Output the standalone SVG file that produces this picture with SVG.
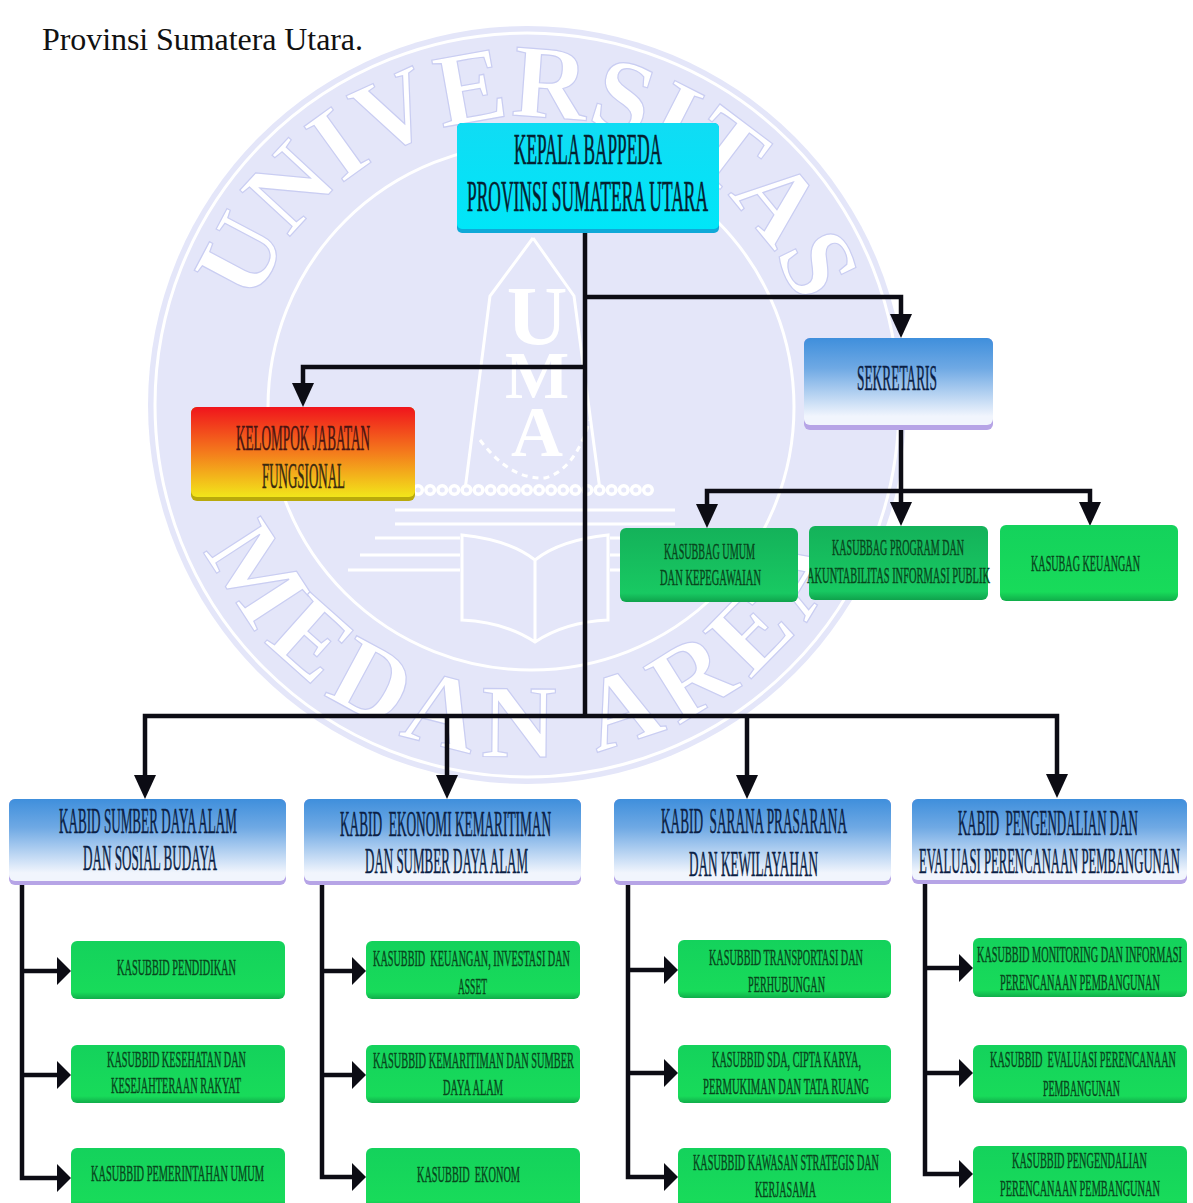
<svg xmlns="http://www.w3.org/2000/svg" width="1193" height="1203" viewBox="0 0 1193 1203">
<style>
text{font-family:"Liberation Serif","Times New Roman",serif;text-anchor:start}
.t{font-size:12.5px;fill:#0b1f45;stroke:#0b1f45;stroke-width:.18}
.h{font-size:16px;fill:#04202f;stroke:#04202f;stroke-width:.22}
.s{font-size:10px;fill:#08451c;stroke:#08451c;stroke-width:.18}
.wm{font-size:104px;font-weight:bold;fill:#fff;stroke:#c9cdf2;stroke-width:1.2;text-anchor:middle}
.em{font-weight:bold;fill:#fff;text-anchor:middle}
.emb{fill:none;stroke:#fff;stroke-width:3}
.ln{fill:none;stroke:#0c0c14;stroke-width:4.5;stroke-linejoin:miter}
.ah{fill:#0c0c14}
</style>
<defs>
<linearGradient id="gBlue" x1="0" y1="0" x2="0" y2="1"><stop offset="0" stop-color="#3f8fdc"/><stop offset=".35" stop-color="#6fa9e4"/><stop offset=".9" stop-color="#f1f5fd"/></linearGradient>
<linearGradient id="gRed" x1="0" y1="0" x2="0" y2="1"><stop offset="0" stop-color="#f0141c"/><stop offset=".5" stop-color="#f47a1c"/><stop offset="1" stop-color="#f2e61a"/></linearGradient>
<linearGradient id="gGreen" x1="0" y1="0" x2="0" y2="1"><stop offset="0" stop-color="#14d25c"/><stop offset=".88" stop-color="#18db5a"/><stop offset="1" stop-color="#10ad4a"/></linearGradient>
<linearGradient id="gGreen2" x1="0" y1="0" x2="0" y2="1"><stop offset="0" stop-color="#14b25a"/><stop offset=".88" stop-color="#18c962"/><stop offset="1" stop-color="#0fa24c"/></linearGradient>
<linearGradient id="gCyan" x1="0" y1="0" x2="0" y2="1"><stop offset="0" stop-color="#10dcf4"/><stop offset="1" stop-color="#00e6f8"/></linearGradient>
<path id="arcTop" d="M 237 407 A 290 290 0 0 1 817 407"/>
<path id="arcBot" d="M 175 405 A 352 352 0 0 0 879 405"/>
<polygon id="hd" points="-11,-24 11,-24 0,0" class="ah"/>
<polygon id="hr" points="-14,-14 0,0 -14,14" class="ah"/>
</defs>

<rect width="1193" height="1203" fill="#fff"/>

<g id="watermark">
<circle cx="527" cy="405" r="379" fill="#e4e6f9"/>
<circle cx="527" cy="405" r="372" fill="none" stroke="#fff" stroke-width="3"/>
<circle cx="531" cy="407" r="263" fill="none" stroke="#fff" stroke-width="3"/>
<text class="wm"><textPath href="#arcTop" startOffset="50%">UNIVERSITAS</textPath></text>
<text class="wm"><textPath href="#arcBot" startOffset="50%" letter-spacing="10">MEDAN AREA</textPath></text>
<path class="emb" d="M533 238 L490 296 L465 490 M533 238 L574 296 L600 490"/>
<text class="em" x="537" y="345" font-size="84">U</text>
<text class="em" x="537" y="398" font-size="68">M</text>
<text class="em" x="537" y="456" font-size="72">A</text>
<path d="M418 490 H650" fill="none" stroke="#fff" stroke-width="12" stroke-linecap="round" stroke-dasharray="0.1 12"/>
<path d="M418 490 H650" fill="none" stroke="#e4e6f9" stroke-width="5" stroke-linecap="round" stroke-dasharray="0.1 12"/>
<path class="emb" d="M395 510 H675 M395 524 H675 M375 538 H460 M610 538 H690 M360 555 H460 M610 555 H695 M348 570 H460 M610 570 H700"/>
<path class="emb" d="M462 535 Q510 540 535 560 Q560 540 608 535 V620 Q565 622 535 642 Q505 622 462 620 Z M535 560 V642"/>
<path class="emb" d="M480 440 Q510 480 545 478 Q575 470 590 420" stroke-dasharray="6 5"/>
</g>

<g id="connectors">
<path class="ln" d="M585 233 V716"/>
<path class="ln" d="M585 297 H901 V318"/><use href="#hd" x="901" y="338"/>
<path class="ln" d="M585 367 H303 V388"/><use href="#hd" x="303" y="407"/>
<path class="ln" d="M901 430 V510"/><use href="#hd" x="901" y="526"/>
<path class="ln" d="M707 510 V491 H1090 V510"/><use href="#hd" x="707" y="528"/><use href="#hd" x="1090" y="526"/>
<path class="ln" d="M145 780 V716 H1057 V780"/><path class="ln" d="M447 716 V780 M747 716 V780"/>
<use href="#hd" x="145" y="799"/><use href="#hd" x="447" y="799"/><use href="#hd" x="747" y="799"/><use href="#hd" x="1057" y="798"/>
<path class="ln" d="M22 885 V1178 H60 M22 971 H60 M22 1075 H60"/>
<use href="#hr" x="71" y="971"/><use href="#hr" x="71" y="1075"/><use href="#hr" x="71" y="1178"/>
<path class="ln" d="M322 885 V1177 H355 M322 971 H355 M322 1075 H355"/>
<use href="#hr" x="366" y="971"/><use href="#hr" x="366" y="1075"/><use href="#hr" x="366" y="1177"/>
<path class="ln" d="M628 885 V1177 H667 M628 970 H667 M628 1073 H667"/>
<use href="#hr" x="678" y="970"/><use href="#hr" x="678" y="1073"/><use href="#hr" x="678" y="1177"/>
<path class="ln" d="M925 884 V1174 H962 M925 968 H962 M925 1073 H962"/>
<use href="#hr" x="973" y="968"/><use href="#hr" x="973" y="1073"/><use href="#hr" x="973" y="1174"/>
</g>

<g id="kepala"><rect x="457" y="123" width="262" height="110" rx="5" fill="#0fa9d8"/><rect x="457" y="123" width="262" height="106" rx="5" fill="url(#gCyan)"/>
<text class="h" x="514" transform="matrix(1 0 0 2.8 0 164)" textLength="148" lengthAdjust="spacingAndGlyphs">KEPALA BAPPEDA</text>
<text class="h" x="467" transform="matrix(1 0 0 2.8 0 211)" textLength="241" lengthAdjust="spacingAndGlyphs">PROVINSI SUMATERA UTARA</text></g>

<g id="sekretaris"><rect x="804" y="338" width="189" height="92" rx="6" fill="#b6a4e6"/><rect x="804" y="338" width="189" height="87" rx="6" fill="url(#gBlue)"/>
<text class="t" x="857" transform="matrix(1 0 0 2.9 0 390)" textLength="80" lengthAdjust="spacingAndGlyphs">SEKRETARIS</text></g>

<g id="jabatan"><rect x="191" y="407" width="224" height="94" rx="6" fill="#b9a90c"/><rect x="191" y="407" width="224" height="90" rx="6" fill="url(#gRed)"/>
<text class="t" x="236" transform="matrix(1 0 0 2.9 0 450)" textLength="134" lengthAdjust="spacingAndGlyphs" style="fill:#4a1412;stroke:#4a1412">KELOMPOK JABATAN</text>
<text class="t" x="262" transform="matrix(1 0 0 2.9 0 488)" textLength="83" lengthAdjust="spacingAndGlyphs" style="fill:#3a2a10;stroke:#3a2a10">FUNGSIONAL</text></g>

<g id="kasubbag-umum"><rect x="620" y="528" width="178" height="74" rx="6" fill="url(#gGreen2)"/>
<text class="s" x="664" transform="matrix(1 0 0 2.4 0 559)" textLength="91" lengthAdjust="spacingAndGlyphs">KASUBBAG UMUM</text>
<text class="s" x="660" transform="matrix(1 0 0 2.4 0 585)" textLength="101" lengthAdjust="spacingAndGlyphs">DAN KEPEGAWAIAN</text></g>
<g id="kasubbag-program"><rect x="809" y="526" width="179" height="74" rx="6" fill="url(#gGreen2)"/>
<text class="s" x="832" transform="matrix(1 0 0 2.4 0 555)" textLength="132" lengthAdjust="spacingAndGlyphs">KASUBBAG PROGRAM DAN</text>
<text class="s" x="807" transform="matrix(1 0 0 2.4 0 583)" textLength="183" lengthAdjust="spacingAndGlyphs">AKUNTABILITAS INFORMASI PUBLIK</text></g>
<g id="kasubag-keuangan"><rect x="1000" y="525" width="178" height="76" rx="6" fill="url(#gGreen)"/>
<text class="s" x="1031" transform="matrix(1 0 0 2.4 0 571)" textLength="109" lengthAdjust="spacingAndGlyphs">KASUBAG KEUANGAN</text></g>

<g id="kabid-1"><rect x="9" y="799" width="277" height="86" rx="6" fill="#b6a4e6"/><rect x="9" y="799" width="277" height="82" rx="6" fill="url(#gBlue)"/>
<text class="t" x="59" transform="matrix(1 0 0 2.9 0 833)" textLength="178" lengthAdjust="spacingAndGlyphs">KABID SUMBER DAYA ALAM</text>
<text class="t" x="83" transform="matrix(1 0 0 2.9 0 870)" textLength="134" lengthAdjust="spacingAndGlyphs">DAN SOSIAL BUDAYA</text></g>
<g id="kabid-2"><rect x="304" y="799" width="277" height="86" rx="6" fill="#b6a4e6"/><rect x="304" y="799" width="277" height="82" rx="6" fill="url(#gBlue)"/>
<text class="t" x="340" transform="matrix(1 0 0 2.9 0 836)" textLength="211" lengthAdjust="spacingAndGlyphs" xml:space="preserve">KABID  EKONOMI KEMARITIMAN</text>
<text class="t" x="365" transform="matrix(1 0 0 2.9 0 873)" textLength="163" lengthAdjust="spacingAndGlyphs">DAN SUMBER DAYA ALAM</text></g>
<g id="kabid-3"><rect x="614" y="799" width="277" height="86" rx="6" fill="#b6a4e6"/><rect x="614" y="799" width="277" height="82" rx="6" fill="url(#gBlue)"/>
<text class="t" x="661" transform="matrix(1 0 0 2.9 0 833)" textLength="186" lengthAdjust="spacingAndGlyphs" xml:space="preserve">KABID  SARANA PRASARANA</text>
<text class="t" x="689" transform="matrix(1 0 0 2.9 0 876)" textLength="129" lengthAdjust="spacingAndGlyphs">DAN KEWILAYAHAN</text></g>
<g id="kabid-4"><rect x="912" y="799" width="275" height="85" rx="6" fill="#b6a4e6"/><rect x="912" y="799" width="275" height="81" rx="6" fill="url(#gBlue)"/>
<text class="t" x="958" transform="matrix(1 0 0 2.9 0 835)" textLength="180" lengthAdjust="spacingAndGlyphs" xml:space="preserve">KABID  PENGENDALIAN DAN</text>
<text class="t" x="919" transform="matrix(1 0 0 2.9 0 873)" textLength="261" lengthAdjust="spacingAndGlyphs">EVALUASI PERENCANAAN PEMBANGUNAN</text></g>

<g id="sub-1-1"><rect x="71" y="941" width="214" height="58" rx="6" fill="url(#gGreen)"/>
<text class="s" x="117" transform="matrix(1 0 0 2.4 0 975)" textLength="119" lengthAdjust="spacingAndGlyphs">KASUBBID PENDIDIKAN</text></g>
<g id="sub-1-2"><rect x="71" y="1045" width="214" height="58" rx="6" fill="url(#gGreen)"/>
<text class="s" x="107" transform="matrix(1 0 0 2.4 0 1067)" textLength="139" lengthAdjust="spacingAndGlyphs">KASUBBID KESEHATAN DAN</text>
<text class="s" x="111" transform="matrix(1 0 0 2.4 0 1093)" textLength="130" lengthAdjust="spacingAndGlyphs">KESEJAHTERAAN RAKYAT</text></g>
<g id="sub-1-3"><rect x="71" y="1148" width="214" height="60" rx="6" fill="url(#gGreen)"/>
<text class="s" x="91" transform="matrix(1 0 0 2.4 0 1181)" textLength="173" lengthAdjust="spacingAndGlyphs">KASUBBID PEMERINTAHAN UMUM</text></g>

<g id="sub-2-1"><rect x="366" y="941" width="214" height="58" rx="6" fill="url(#gGreen)"/>
<text class="s" x="373" transform="matrix(1 0 0 2.4 0 966)" textLength="197" lengthAdjust="spacingAndGlyphs" xml:space="preserve">KASUBBID  KEUANGAN, INVESTASI DAN</text>
<text class="s" x="458" transform="matrix(1 0 0 2.4 0 994)" textLength="29" lengthAdjust="spacingAndGlyphs">ASSET</text></g>
<g id="sub-2-2"><rect x="366" y="1045" width="214" height="58" rx="6" fill="url(#gGreen)"/>
<text class="s" x="373" transform="matrix(1 0 0 2.4 0 1068)" textLength="201" lengthAdjust="spacingAndGlyphs">KASUBBID KEMARITIMAN DAN SUMBER</text>
<text class="s" x="443" transform="matrix(1 0 0 2.4 0 1095)" textLength="60" lengthAdjust="spacingAndGlyphs">DAYA ALAM</text></g>
<g id="sub-2-3"><rect x="366" y="1148" width="214" height="60" rx="6" fill="url(#gGreen)"/>
<text class="s" x="417" transform="matrix(1 0 0 2.4 0 1182)" textLength="103" lengthAdjust="spacingAndGlyphs" xml:space="preserve">KASUBBID  EKONOM</text></g>

<g id="sub-3-1"><rect x="678" y="940" width="213" height="58" rx="6" fill="url(#gGreen)"/>
<text class="s" x="709" transform="matrix(1 0 0 2.4 0 965)" textLength="154" lengthAdjust="spacingAndGlyphs">KASUBBID TRANSPORTASI DAN</text>
<text class="s" x="748" transform="matrix(1 0 0 2.4 0 992)" textLength="77" lengthAdjust="spacingAndGlyphs">PERHUBUNGAN</text></g>
<g id="sub-3-2"><rect x="678" y="1045" width="213" height="58" rx="6" fill="url(#gGreen)"/>
<text class="s" x="712" transform="matrix(1 0 0 2.4 0 1067)" textLength="149" lengthAdjust="spacingAndGlyphs">KASUBBID SDA, CIPTA KARYA,</text>
<text class="s" x="703" transform="matrix(1 0 0 2.4 0 1094)" textLength="166" lengthAdjust="spacingAndGlyphs">PERMUKIMAN DAN TATA RUANG</text></g>
<g id="sub-3-3"><rect x="678" y="1148" width="213" height="60" rx="6" fill="url(#gGreen)"/>
<text class="s" x="693" transform="matrix(1 0 0 2.4 0 1170)" textLength="186" lengthAdjust="spacingAndGlyphs">KASUBBID KAWASAN STRATEGIS DAN</text>
<text class="s" x="755" transform="matrix(1 0 0 2.4 0 1197)" textLength="61" lengthAdjust="spacingAndGlyphs">KERJASAMA</text></g>

<g id="sub-4-1"><rect x="973" y="938" width="214" height="59" rx="6" fill="url(#gGreen)"/>
<text class="s" x="977" transform="matrix(1 0 0 2.4 0 962)" textLength="205" lengthAdjust="spacingAndGlyphs">KASUBBID MONITORING DAN INFORMASI</text>
<text class="s" x="1000" transform="matrix(1 0 0 2.4 0 990)" textLength="160" lengthAdjust="spacingAndGlyphs">PERENCANAAN PEMBANGUNAN</text></g>
<g id="sub-4-2"><rect x="973" y="1045" width="214" height="58" rx="6" fill="url(#gGreen)"/>
<text class="s" x="990" transform="matrix(1 0 0 2.4 0 1067)" textLength="186" lengthAdjust="spacingAndGlyphs" xml:space="preserve">KASUBBID  EVALUASI PERENCANAAN</text>
<text class="s" x="1043" transform="matrix(1 0 0 2.4 0 1096)" textLength="77" lengthAdjust="spacingAndGlyphs">PEMBANGUNAN</text></g>
<g id="sub-4-3"><rect x="973" y="1146" width="214" height="62" rx="6" fill="url(#gGreen)"/>
<text class="s" x="1012" transform="matrix(1 0 0 2.4 0 1168)" textLength="135" lengthAdjust="spacingAndGlyphs">KASUBBID PENGENDALIAN</text>
<text class="s" x="1000" transform="matrix(1 0 0 2.4 0 1196)" textLength="160" lengthAdjust="spacingAndGlyphs">PERENCANAAN PEMBANGUNAN</text></g>

<text x="42" y="50" font-size="32" fill="#111" textLength="321">Provinsi Sumatera Utara.</text>
</svg>
